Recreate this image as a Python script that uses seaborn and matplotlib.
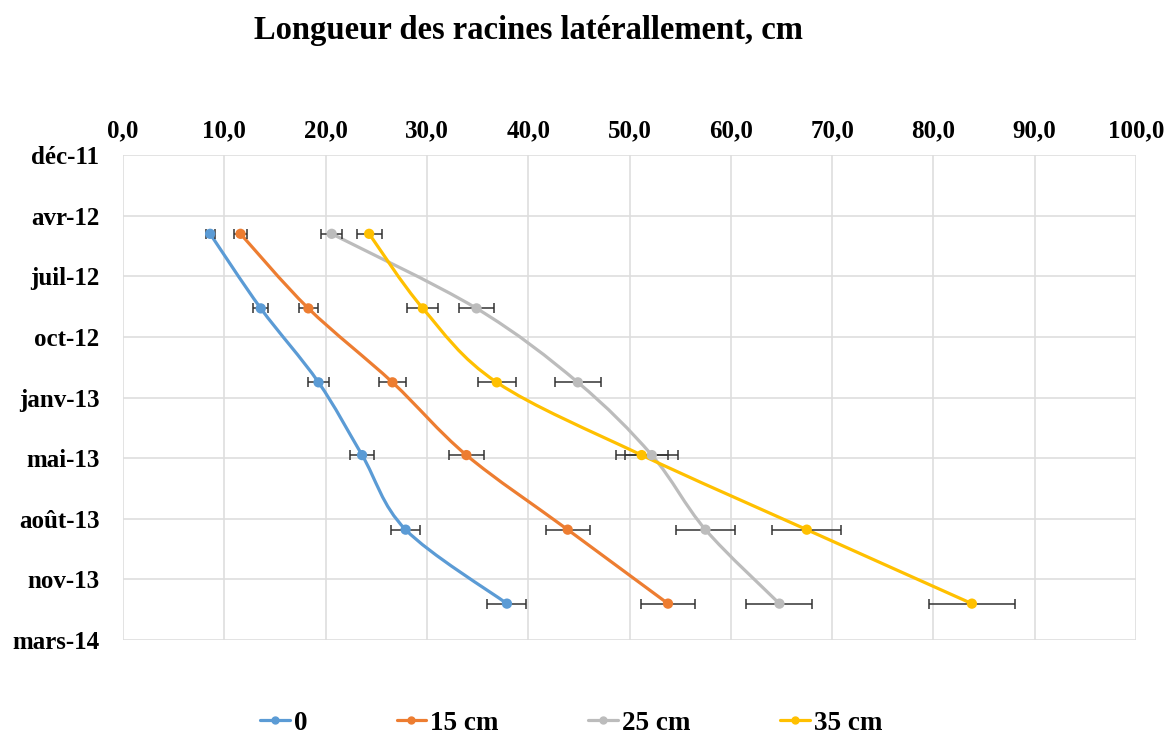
import numpy as np
import pandas as pd
import matplotlib
matplotlib.use('Agg')
import matplotlib.pyplot as plt
import matplotlib.dates as mdates
from matplotlib.path import Path
from matplotlib.patches import PathPatch
from matplotlib.lines import Line2D
import seaborn as sns

# data
dates = ['2012-05-01', '2012-09-01', '2013-01-01', '2013-05-01', '2013-09-01', '2014-01-01']
series = ['0', '15 cm', '25 cm', '35 cm']
val_0 = [8.6, 13.6, 19.3, 23.6, 27.9, 37.9]
val_15 = [11.6, 18.3, 26.6, 33.9, 43.9, 53.8]
val_25 = [20.6, 34.9, 44.9, 52.2, 57.5, 64.8]
val_35 = [24.3, 29.6, 36.9, 51.2, 67.5, 83.8]
err_0 = [0.45, 0.72, 0.99, 1.2, 1.45, 1.93]
err_15 = [0.6, 0.94, 1.33, 1.74, 2.19, 2.7]
err_25 = [1.04, 1.76, 2.25, 2.6, 2.87, 3.26]
err_35 = [1.23, 1.53, 1.86, 2.57, 3.4, 4.23]
colors = ['#5B9BD5', '#ED7D31', '#BCBCBC', '#FFC000']
date_labels = ['déc-11', 'avr-12', 'juil-12', 'oct-12', 'janv-13',
               'mai-13', 'août-13', 'nov-13', 'mars-14']
xtick_labels = ['0,0', '10,0', '20,0', '30,0', '40,0', '50,0',
                '60,0', '70,0', '80,0', '90,0', '100,0']

axis_start = mdates.date2num(pd.Timestamp('2011-12-23'))
step = 100  # days between date gridlines

sns.set_theme(style='white')
plt.rcParams['font.family'] = ['Liberation Serif', 'DejaVu Serif']
plt.rcParams['font.weight'] = 'bold'
plt.rcParams['text.color'] = 'black'
plt.rcParams['xtick.color'] = 'black'
plt.rcParams['ytick.color'] = 'black'

df = pd.DataFrame({
    'date': np.tile(mdates.date2num(pd.to_datetime(dates)), 4),
    'val': val_0 + val_15 + val_25 + val_35,
    'err': err_0 + err_15 + err_25 + err_35,
    'serie': np.repeat(series, len(dates)),
})

fig = plt.figure(figsize=(11.75, 7.36), dpi=100)
ax = fig.add_axes([123 / 1175, 1 - 640 / 736, 1013 / 1175, 485 / 736])


def smooth_path(x, y):
    # excel-style smoothed line: cubic bezier with 1/6 tangents
    p = np.column_stack([x, y])
    pts = [p[0]]
    codes = [Path.MOVETO]
    n = len(p)
    for i in range(n - 1):
        p0 = p[i - 1] if i > 0 else p[i]
        p3 = p[i + 2] if i + 2 < n else p[i + 1]
        c1 = p[i] + (p[i + 1] - p0) / 6
        c2 = p[i + 1] - (p3 - p[i]) / 6
        pts += [c1, c2, p[i + 1]]
        codes += [Path.CURVE4] * 3
    return Path(pts, codes)


for s, c in zip(series, colors):
    d = df[df['serie'] == s]
    ax.add_patch(PathPatch(smooth_path(d['val'].values, d['date'].values),
                           facecolor='none', edgecolor=c, lw=2.3, zorder=2))
    ax.errorbar(d['val'], d['date'], xerr=d['err'], fmt='none',
                ecolor='#333333', elinewidth=1.1, capsize=3.3, capthick=1.1, zorder=3)

sns.scatterplot(data=df, x='val', y='date', hue='serie', palette=colors,
                s=55, edgecolor='none', legend=False, ax=ax, zorder=4)

ax.set_xlim(0, 100)
ax.set_ylim(axis_start + step * (len(date_labels) - 1), axis_start)
ax.set_xticks(np.arange(0, 101, 10))
ax.set_xticklabels(xtick_labels)
ax.set_yticks([axis_start + step * k for k in range(len(date_labels))])
ax.set_yticklabels(date_labels)
ax.xaxis.tick_top()
ax.tick_params(axis='x', length=0, pad=9, labelsize=18)
ax.tick_params(axis='y', length=0, pad=17, labelsize=18)
for lab in ax.get_xticklabels() + ax.get_yticklabels():
    lab.set_fontweight('bold')
ax.set_xlabel('')
ax.set_ylabel('')
ax.grid(True, color='#dedede', lw=1.2)
for sp in ax.spines.values():
    sp.set_visible(False)

fig.text(528 / 1175, 1 - 31 / 736, 'Longueur des racines latérallement, cm',
         ha='center', va='center', fontsize=23.5, fontweight='bold')

handles = [Line2D([], [], color=c, lw=2.3, marker='o', markersize=5) for c in colors]
fig.legend(handles, series, loc='center', bbox_to_anchor=(0.486, 1 - 723 / 736),
           ncol=4, frameon=False, handlelength=1.1, handletextpad=0.15,
           columnspacing=3.3, prop={'weight': 'bold', 'size': 19.5})

fig.savefig('out.png', dpi=100)
